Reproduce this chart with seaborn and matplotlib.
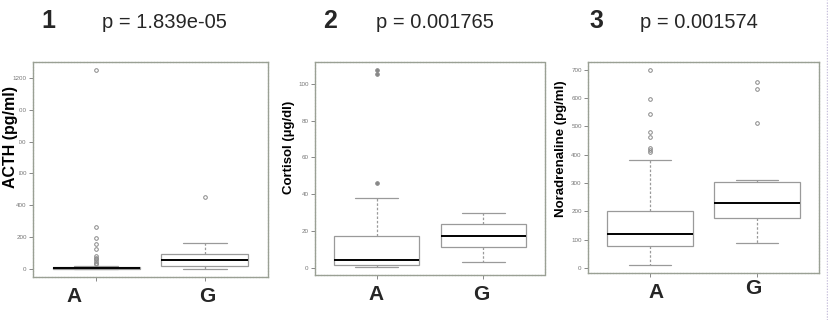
import pandas as pd
import numpy as np
import seaborn as sns
import matplotlib.pyplot as plt
from matplotlib.lines import Line2D

acth_A = [0, 0.5, 0.8, 1, 1, 1.2, 1.4, 1.5, 1.6, 1.8, 1.9, 2, 2,
          2.5, 3, 3, 3.5, 3.8, 4, 4, 4.2, 4.5, 4.7, 4.8, 5,
          5.5, 6, 6.5, 7, 7, 7.5, 8, 8.5, 9, 9.5, 9.8, 10,
          21, 30, 40, 50, 61, 82, 128, 156, 194, 261, 1250, 70]
acth_G = [2, 10, 19, 35, 55, 80, 95, 162, 450]

cort_A = [0.5, 0.8, 1.0, 1.2, 1.4, 1.5, 2, 3, 3.5, 4, 4.5,
          6, 8, 11, 14, 17.5, 25, 38, 46, 105.5, 107.5]
cort_G = [3.5, 8, 11.5, 15, 17.5, 21, 24, 27, 30]

nora_A = [10, 30, 40, 50, 55, 60, 65, 70, 72, 75, 77,
          82, 88, 92, 96, 100, 104, 108, 112, 116, 120,
          128, 135, 142, 150, 158, 166, 175, 184, 192, 200,
          260, 380, 411, 418, 425, 462, 482, 544, 598, 700]
nora_G = [89, 120, 150, 165, 176, 190, 205, 218, 228,
          250, 275, 295, 303, 310, 512, 634, 658]

groups = ['A', 'G']
panel_nums = ['1', '2', '3']
pvals = ['p = 1.839e-05', 'p = 0.001765', 'p = 0.001574']
ylabels = ['ACTH (pg/ml)', 'Cortisol (\u00b5g/dl)', 'Noradrenaline (pg/ml)']
yticks = [np.arange(0, 1201, 200), np.arange(0, 101, 20), np.arange(0, 701, 100)]

panels = [(acth_A, acth_G), (cort_A, cort_G), (nora_A, nora_G)]

sns.set_style('white')
plt.rcParams['font.family'] = ['Liberation Sans', 'DejaVu Sans']

W, H = 829, 320
fig = plt.figure(figsize=(W / 100, H / 100), dpi=100)

# axes rectangles in pixels: left, top, right, bottom
rects = [(33, 62, 268, 277), (315, 62, 545, 275), (588, 62, 819, 273)]
ylab_pos = [(-0.064, 0.65, 11.5), (-0.087, 0.60, 9.5), (-0.091, 0.59, 9.5)]
title_pos = [(48, 102), (330, 376), (596, 640)]
ag_pos = [((74, 296), (207, 296)), ((376, 295), (481, 295)), ((656, 293), (753, 288))]

frame_col = '#9aa094'
line_col = '#9a9a9a'

for i, (a_vals, g_vals) in enumerate(panels):
    l, t, r, b = rects[i]
    ax = fig.add_axes([l / W, 1 - b / H, (r - l) / W, (b - t) / H])
    df = pd.DataFrame({'group': ['A'] * len(a_vals) + ['G'] * len(g_vals),
                       'value': list(a_vals) + list(g_vals)})
    fill_flier = 'none' if i != 1 else '#888888'
    sns.boxplot(data=df, x='group', y='value', order=groups, ax=ax,
                color='white', linecolor=line_col, linewidth=0.9, width=0.8,
                whis=1.5,
                medianprops=dict(color='black', linewidth=1.4),
                whiskerprops=dict(color=line_col, linestyle=(0, (2, 1.5)), linewidth=0.9),
                capprops=dict(color=line_col, linewidth=0.9),
                flierprops=dict(marker='o', markersize=2.6, markerfacecolor=fill_flier,
                                markeredgecolor='#888888', markeredgewidth=0.7))
    allv = np.array(list(a_vals) + list(g_vals))
    rng = allv.max() - allv.min()
    ax.set_ylim(allv.min() - 0.04 * rng, allv.max() + 0.04 * rng)
    ax.set_xlim(-0.58, 1.58)
    ax.set_yticks(yticks[i])
    ax.set_xticks([0, 1])
    ax.set_xticklabels([])
    ax.set_xlabel('')
    ax.tick_params(axis='y', labelsize=4.5, labelcolor='#777777', color='#888888',
                   length=3, width=0.7, left=True, pad=1.5)
    ax.tick_params(axis='x', color='#888888', length=3, width=0.7, bottom=True)
    for sp in ax.spines.values():
        sp.set_visible(True)
        sp.set_color(frame_col)
        sp.set_linewidth(1.0)
        sp.set_linestyle((0, (1.5, 0.8)))
    lx, ly, fs = ylab_pos[i]
    ax.set_ylabel(ylabels[i], fontsize=fs, fontweight='bold', color='black')
    ax.yaxis.set_label_coords(lx, ly)
    ax.yaxis.label.set_bbox(dict(facecolor='white', edgecolor='none', pad=0.5))

    nx, px = title_pos[i]
    fig.text(nx / W, 1 - 21 / H, panel_nums[i], fontsize=18, fontweight='bold',
             ha='center', va='center')
    fig.text(px / W, 1 - 22 / H, pvals[i], fontsize=14.5, ha='left', va='center')
    for lab, (gx, gy) in zip(groups, ag_pos[i]):
        fig.text(gx / W, 1 - gy / H, lab, fontsize=15, fontweight='bold',
                 ha='center', va='center')

# faint dotted edge at the right border of the source image
fig.add_artist(Line2D([827 / W, 827 / W], [0, 1], transform=fig.transFigure,
                      color='#c8c0dc', linewidth=1, linestyle=(0, (1, 1))))

fig.savefig('out.png', dpi=100)
